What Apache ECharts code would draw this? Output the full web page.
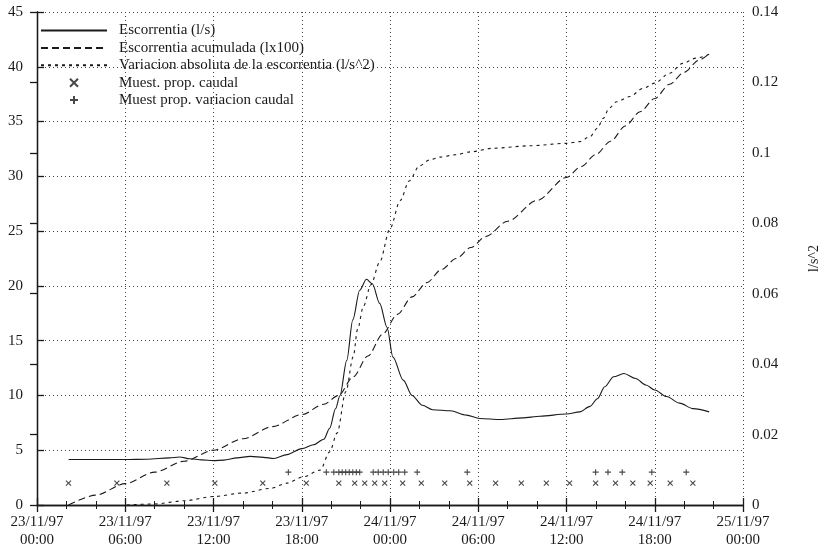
<!DOCTYPE html>
<html>
<head>
<meta charset="utf-8">
<script src="https://cdn.jsdelivr.net/npm/echarts@6/dist/echarts.min.js"></script>
<style>
  html, body { margin: 0; padding: 0; background: #fff; }
  #chart { width: 824px; height: 548px; }
</style>
</head>
<body>
<div id="chart"></div>
<script>
// Time is expressed in hours since 23/11/97 00:00.
const dateLabels = ['23/11/97', '23/11/97', '23/11/97', '23/11/97', '24/11/97', '24/11/97', '24/11/97', '24/11/97', '25/11/97'];
const timeLabels = ['00:00', '06:00', '12:00', '18:00', '00:00', '06:00', '12:00', '18:00', '00:00'];

// Escorrentia (l/s)
const runoffHours = [2.15, 4.0, 6.0, 7.5, 9.0, 9.7, 10.4, 11.2, 12.0, 12.7, 13.6, 14.5, 15.4, 16.1, 17.0, 18.0, 18.8, 19.5, 19.9, 20.3, 20.6, 21.06, 21.47, 21.94, 22.4, 22.8, 23.3, 23.8, 24.2, 24.9, 25.5, 26.2, 26.9, 28.1, 29.2, 30.1, 31.5, 33.0, 34.2, 36.0, 36.9, 37.6, 38.1, 38.6, 39.2, 39.9, 40.7, 41.4, 42.0, 42.8, 43.7, 44.6, 45.7];
const runoffValues = [4.15, 4.15, 4.15, 4.18, 4.3, 4.38, 4.22, 4.12, 4.05, 4.1, 4.3, 4.44, 4.35, 4.25, 4.6, 5.15, 5.5, 6.0, 7.0, 8.8, 10.0, 13.2, 16.9, 19.6, 20.6, 20.2, 18.4, 16.2, 13.5, 11.4, 10.0, 9.1, 8.7, 8.6, 8.2, 7.9, 7.8, 7.95, 8.1, 8.3, 8.5, 9.0, 9.7, 10.8, 11.7, 12.0, 11.55, 10.95, 10.5, 9.9, 9.3, 8.8, 8.5];

// Escorrentia acumulada (l x 100)
const cumulHours = [2.15, 4.0, 6.0, 8.0, 10.0, 12.0, 14.0, 16.0, 18.0, 19.5, 20.5, 21.5, 22.5, 23.5, 24.5, 25.5, 26.5, 27.5, 28.5, 29.5, 30.5, 32.0, 34.0, 36.0, 37.0, 38.0, 39.0, 40.0, 41.0, 42.0, 43.0, 44.0, 45.0, 45.7];
const cumulValues = [0, 0.9, 1.95, 3.0, 4.0, 5.0, 6.05, 7.15, 8.25, 9.2, 10.0, 11.7, 13.6, 15.6, 17.4, 19.0, 20.3, 21.5, 22.5, 23.5, 24.5, 25.9, 27.8, 29.9, 30.9, 32.0, 33.2, 34.6, 35.9, 37.1, 38.4, 39.5, 40.6, 41.2];

// Variacion absoluta de la escorrentia (l/s^2), right axis
const variationHours = [6.1, 8.0, 10.0, 12.0, 14.0, 15.85, 17.0, 18.1, 19.25, 19.9, 20.4, 21.0, 21.5, 21.8, 22.2, 22.7, 23.3, 24.0, 24.7, 25.3, 26.0, 26.7, 27.4, 28.5, 29.5, 31.0, 33.5, 36.0, 36.9, 37.6, 38.1, 38.5, 38.9, 39.4, 40.3, 41.2, 42.0, 43.0, 43.9, 44.8, 45.7];
const variationValues = [0, 0.0003, 0.0012, 0.0024, 0.0034, 0.0047, 0.0062, 0.008, 0.0099, 0.0151, 0.0204, 0.0322, 0.0421, 0.050, 0.0565, 0.0625, 0.069, 0.0785, 0.0865, 0.092, 0.0963, 0.098, 0.0988, 0.0995, 0.1003, 0.1013, 0.102, 0.1027, 0.1032, 0.1046, 0.107, 0.1098, 0.1127, 0.1145, 0.116, 0.1183, 0.1198, 0.1226, 0.1254, 0.1269, 0.128];

// Sampling instants
const flowSampleHours = [2.14, 5.43, 8.83, 12.09, 15.35, 18.31, 20.52, 21.6, 22.28, 22.96, 23.64, 24.86, 26.13, 27.72, 29.42, 31.18, 32.93, 34.63, 36.21, 37.98, 39.33, 40.51, 41.69, 43.05, 44.59];
const flowSampleLevel = 2;
const variationSampleHours = [17.09, 19.67, 20.18, 20.52, 20.75, 20.99, 21.23, 21.47, 21.71, 21.94, 22.86, 23.2, 23.54, 23.88, 24.25, 24.59, 25.0, 25.85, 29.25, 37.98, 38.82, 39.79, 41.8, 44.14];
const variationSampleLevel = 3;

const seriesNames = [
  'Escorrentia (l/s)',
  'Escorrentia acumulada (lx100)',
  'Variacion absoluta de la escorrentia (l/s^2)',
  'Muest. prop. caudal',
  'Muest prop. variacion caudal'
];

const pairs = (xs, ys) => xs.map((x, i) => [x, ys[i]]);
const level = (xs, v) => xs.map(x => [x, v]);

const INK = '#1a1a1a';
const FONT = '"Liberation Serif", "DejaVu Serif", serif';
const gridDots = { color: '#444', width: 1, type: [1, 3] };

const crossPath = 'path://M0,0L10,10M10,0L0,10';
const plusPath = 'path://M5,0L5,10M0,5L10,5';

// Line entries in the legend show only the line sample, no marker.
const legendData = seriesNames.map((name, i) =>
  i < 3 ? { name, itemStyle: { opacity: 0 } } : { name });

const chart = echarts.init(document.getElementById('chart'), null, { renderer: 'canvas' });

chart.setOption({
  animation: false,
  backgroundColor: '#fff',
  grid: { left: 37, right: 81, top: 12, bottom: 43, containLabel: false, outerBoundsMode: 'none' },
  legend: {
    orient: 'vertical',
    left: 40,
    top: 23,
    itemWidth: 66,
    itemHeight: 8,
    itemGap: 2.4,
    padding: 0,
    data: legendData,
    formatter: n => '{s|}' + n,
    textStyle: {
      fontFamily: FONT, fontSize: 15, color: INK, lineHeight: 15,
      rich: { s: { width: 7 } }
    }
  },
  xAxis: [
    {
      type: 'value', position: 'bottom', min: 0, max: 48, interval: 6,
      axisLine: { show: true, lineStyle: { color: INK, width: 1.3 } },
      axisTick: { show: true, inside: true, length: 7, lineStyle: { color: INK, width: 1.3 } },
      minorTick: { show: true, splitNumber: 3, length: 4, lineStyle: { color: INK, width: 1 } },
      splitLine: { show: true, lineStyle: gridDots },
      axisLabel: {
        margin: 8, fontFamily: FONT, fontSize: 15, color: INK, lineHeight: 18,
        formatter: v => { const i = Math.round(v / 6); return dateLabels[i] + '\n' + timeLabels[i]; }
      }
    },
    {
      type: 'value', position: 'top', min: 0, max: 48, interval: 6,
      axisLine: { show: true, lineStyle: { color: INK, width: 1.3 } },
      axisTick: { show: true, inside: true, length: 7, lineStyle: { color: INK, width: 1.3 } },
      minorTick: { show: true, splitNumber: 3, length: 4, lineStyle: { color: INK, width: 1 } },
      splitLine: { show: false },
      axisLabel: { show: false }
    }
  ],
  yAxis: [
    {
      type: 'value', position: 'left', min: 0, max: 45, interval: 5,
      axisLine: { show: true, lineStyle: { color: INK, width: 1.3 } },
      axisTick: { show: true, inside: true, length: 7, lineStyle: { color: INK, width: 1.3 } },
      splitLine: { show: true, lineStyle: gridDots },
      axisLabel: { margin: 14, fontFamily: FONT, fontSize: 15, color: INK }
    },
    {
      type: 'value', position: 'right', min: 0, max: 0.14, interval: 0.02,
      name: 'l/s^2', nameLocation: 'middle', nameGap: 64, nameRotate: 90,
      nameTextStyle: { fontFamily: FONT, fontSize: 14, color: INK },
      axisLine: { show: true, lineStyle: { color: INK, width: 1.3 } },
      axisTick: { show: true, inside: true, length: 7, lineStyle: { color: INK, width: 1.3 } },
      splitLine: { show: false },
      axisLabel: {
        margin: 9, fontFamily: FONT, fontSize: 15, color: INK,
        formatter: v => String(+v.toFixed(2))
      }
    }
  ],
  series: [
    {
      name: seriesNames[0], type: 'line', xAxisIndex: 0, yAxisIndex: 0,
      data: pairs(runoffHours, runoffValues),
      symbol: 'none', smooth: 0.3, smoothMonotone: 'x',
      lineStyle: { color: INK, width: 1.1, type: 'solid' },
      itemStyle: { color: INK }
    },
    {
      name: seriesNames[1], type: 'line', xAxisIndex: 0, yAxisIndex: 0,
      data: pairs(cumulHours, cumulValues),
      symbol: 'none', smooth: 0.3, smoothMonotone: 'x',
      lineStyle: { color: INK, width: 1.1, type: [7, 4] },
      itemStyle: { color: INK }
    },
    {
      name: seriesNames[2], type: 'line', xAxisIndex: 0, yAxisIndex: 1,
      data: pairs(variationHours, variationValues),
      symbol: 'none', smooth: 0.3, smoothMonotone: 'x',
      lineStyle: { color: INK, width: 1.1, type: [3, 4] },
      itemStyle: { color: INK }
    },
    {
      name: seriesNames[3], type: 'scatter', xAxisIndex: 0, yAxisIndex: 0,
      data: level(flowSampleHours, flowSampleLevel),
      symbol: crossPath, symbolSize: 5,
      itemStyle: { color: 'transparent', borderColor: INK, borderWidth: 1.1 }
    },
    {
      name: seriesNames[4], type: 'scatter', xAxisIndex: 0, yAxisIndex: 0,
      data: level(variationSampleHours, variationSampleLevel),
      symbol: plusPath, symbolSize: 6,
      itemStyle: { color: 'transparent', borderColor: INK, borderWidth: 1.1 }
    }
  ]
});
</script>
</body>
</html>
